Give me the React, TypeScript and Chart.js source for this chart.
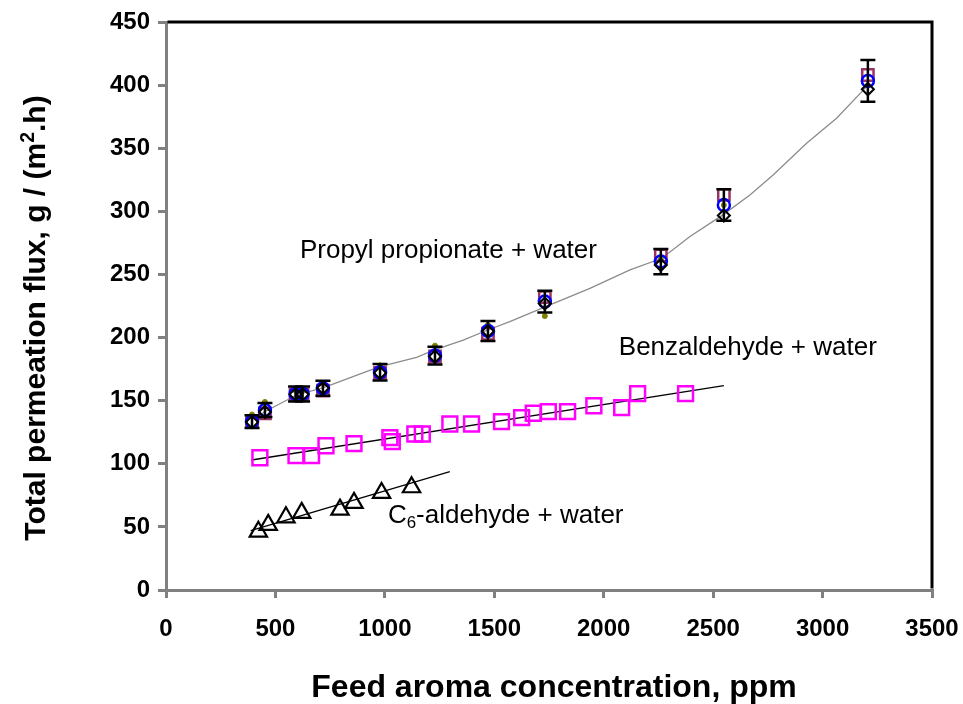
import React, { useEffect, useRef } from 'react';
import { Chart, registerables } from 'chart.js';
Chart.register(...registerables);

const FONT = '"Liberation Sans", Arial, Helvetica, sans-serif';

// Propyl propionate + water (several repeated measurements)
const ppConc = [393, 452, 592, 624, 717, 978, 1229, 1471, 1731, 2261, 2549, 3207];
const ppSquare = [133, 140, 155, 155, 158, 172, 185, 203, 232, 265, 313, 408];
const ppCircle = [133.4, 142.6, 155.3, 155.3, 159.8, 172.5, 185.7, 205.2, 228.5, 260.2, 305, 403.3];
const ppDiamond = [133, 141, 155, 155, 160, 172, 185, 205, 227, 257.5, 296.7, 396.7];
const ppOlive = [139, 149, 158, 158, 163.8, 178, 193.6, 210, 217, 262, 305, 400];
const ppError = [5, 5.5, 6, 6, 6, 6.6, 7, 8, 8.6, 10, 12.5, 16.5];

// Fitted curve for propyl propionate
const ppFitX = [391, 457, 597, 723, 900, 978, 1145, 1224, 1358, 1470, 1571, 1735, 1937, 2120, 2266, 2394, 2543, 2668, 2774, 2927, 3064, 3208];
const ppFitY = [134.7, 141.8, 154.5, 160.6, 172, 177, 184.3, 190, 198, 206, 212.6, 224.5, 239, 253.6, 262.8, 280, 297, 313, 328.8, 354, 373.8, 400];

// Benzaldehyde + water
const bzConc = [429, 594, 665, 731, 859, 1023, 1034, 1137, 1171, 1297, 1396, 1533, 1625, 1678, 1747, 1835, 1955, 2082, 2155, 2374];
const bzFlux = [104.8, 106.4, 106.4, 114.3, 116, 120.7, 117.5, 123.6, 123.6, 131.5, 131.5, 133.4, 136.6, 140, 141.3, 141.3, 146, 144.5, 155.6, 155.6];
const bzTrendX = [391, 2549];
const bzTrendY = [103, 162];

// C6-aldehyde + water
const c6Conc = [422, 467, 548, 620, 795, 859, 985, 1122];
const c6Flux = [46.2, 51.6, 57.6, 61.1, 63.7, 69, 76.9, 81.4];
const c6TrendX = [387, 1297];
const c6TrendY = [47, 93.8];

const xTicksMax = 3500;
const yTicksMax = 450;

const pts = (xs: number[], ys: number[]) => xs.map((x, i) => ({ x, y: ys[i] }));

type Seg = { t: string; shift?: number; scale?: number };

function drawSegs(ctx: CanvasRenderingContext2D, segs: Seg[], size: number, weight: string, x: number, y: number, align: 'left' | 'center') {
  const widths = segs.map((s) => {
    ctx.font = `${weight} ${size * (s.scale || 1)}px ${FONT}`;
    return ctx.measureText(s.t).width;
  });
  const total = widths.reduce((a, b) => a + b, 0);
  let cx = align === 'center' ? x - total / 2 : x;
  segs.forEach((s, i) => {
    ctx.font = `${weight} ${size * (s.scale || 1)}px ${FONT}`;
    ctx.fillText(s.t, cx, y + (s.shift || 0) * size);
    cx += widths[i];
  });
}

const overlay = {
  id: 'overlay',
  afterDatasetsDraw(chart: any) {
    const ctx = chart.ctx as CanvasRenderingContext2D;
    const xs = chart.scales.x;
    const ys = chart.scales.y;
    ctx.save();
    ctx.strokeStyle = '#000';
    ctx.lineWidth = 2.5;
    ppConc.forEach((c, i) => {
      const px = xs.getPixelForValue(c);
      const top = ys.getPixelForValue(ppCircle[i] + ppError[i]);
      const bot = ys.getPixelForValue(ppCircle[i] - ppError[i]);
      ctx.beginPath();
      ctx.moveTo(px, top);
      ctx.lineTo(px, bot);
      ctx.moveTo(px - 7.5, top);
      ctx.lineTo(px + 7.5, top);
      ctx.moveTo(px - 7.5, bot);
      ctx.lineTo(px + 7.5, bot);
      ctx.stroke();
    });
    ctx.restore();
  },
  afterDraw(chart: any) {
    const ctx = chart.ctx as CanvasRenderingContext2D;
    const { left, right, top, bottom } = chart.chartArea;
    const xs = chart.scales.x;
    const ys = chart.scales.y;
    ctx.save();
    ctx.strokeStyle = '#000';
    ctx.lineWidth = 3;
    ctx.beginPath();
    ctx.moveTo(left + 1.5, top);
    ctx.lineTo(right, top);
    ctx.lineTo(right, bottom - 1.5);
    ctx.stroke();

    ctx.fillStyle = '#000';
    ctx.textBaseline = 'alphabetic';
    ctx.textAlign = 'left';
    // series annotations
    drawSegs(ctx, [{ t: 'Propyl propionate + water' }], 26, 'normal', xs.getPixelForValue(612), ys.getPixelForValue(263), 'left');
    drawSegs(ctx, [{ t: 'Benzaldehyde + water' }], 26, 'normal', xs.getPixelForValue(2069), ys.getPixelForValue(186), 'left');
    drawSegs(ctx, [{ t: 'C' }, { t: '6', scale: 0.65, shift: 0.18 }, { t: '-aldehyde + water' }], 26, 'normal', xs.getPixelForValue(1014), ys.getPixelForValue(53), 'left');

    // x axis title
    drawSegs(ctx, [{ t: 'Feed aroma concentration, ppm' }], 32, 'bold', 554, 697, 'center');

    // y axis title
    ctx.translate(45, 318);
    ctx.rotate(-Math.PI / 2);
    drawSegs(ctx, [{ t: 'Total permeation flux, g / (m' }, { t: '2', scale: 0.65, shift: -0.38 }, { t: '.h)' }], 30, 'bold', 0, 0, 'center');
    ctx.restore();
  },
};

export default function App() {
  const ref = useRef<HTMLCanvasElement>(null);
  useEffect(() => {
    if (!ref.current) return;
    const chart = new Chart(ref.current, {
      type: 'scatter',
      data: {
        datasets: [
          {
            label: 'diamond',
            data: pts(ppConc, ppDiamond),
            pointStyle: 'rectRot',
            pointRadius: 6,
            borderColor: '#000',
            backgroundColor: 'rgba(0,0,0,0)',
            borderWidth: 2,
            order: 1,
          },
          {
            label: 'circle',
            data: pts(ppConc, ppCircle),
            pointStyle: 'circle',
            pointRadius: 6,
            borderColor: '#0000FF',
            backgroundColor: 'rgba(0,0,0,0)',
            borderWidth: 2.5,
            order: 2,
          },
          {
            label: 'olive',
            data: pts(ppConc, ppOlive),
            pointStyle: 'circle',
            pointRadius: 2.5,
            borderColor: '#808000',
            backgroundColor: '#808000',
            borderWidth: 1,
            order: 3,
          },
          {
            label: 'square',
            data: pts(ppConc, ppSquare),
            pointStyle: 'rect',
            pointRadius: 8,
            borderColor: '#993366',
            backgroundColor: 'rgba(0,0,0,0)',
            borderWidth: 2.5,
            order: 4,
          },
          {
            label: 'ppFit',
            data: pts(ppFitX, ppFitY),
            showLine: true,
            pointRadius: 0,
            borderColor: '#8c8c8c',
            borderWidth: 1.3,
            tension: 0,
            order: 5,
          },
          {
            label: 'bz',
            data: pts(bzConc, bzFlux),
            pointStyle: 'rect',
            pointRadius: 10.5,
            borderColor: '#FF00FF',
            backgroundColor: 'rgba(0,0,0,0)',
            borderWidth: 2.5,
            order: 2,
          },
          {
            label: 'bzTrend',
            data: pts(bzTrendX, bzTrendY),
            showLine: true,
            pointRadius: 0,
            borderColor: '#000',
            borderWidth: 1.3,
            order: 6,
          },
          {
            label: 'c6',
            data: pts(c6Conc, c6Flux),
            pointStyle: 'triangle',
            pointRadius: 10,
            borderColor: '#000',
            backgroundColor: 'rgba(0,0,0,0)',
            borderWidth: 2.2,
            order: 2,
          },
          {
            label: 'c6Trend',
            data: pts(c6TrendX, c6TrendY),
            showLine: true,
            pointRadius: 0,
            borderColor: '#000',
            borderWidth: 1.3,
            order: 6,
          },
        ],
      },
      options: {
        animation: false,
        responsive: false,
        devicePixelRatio: 1,
        layout: { padding: { left: 0, top: 22, right: 31, bottom: 0 } },
        plugins: { legend: { display: false }, tooltip: { enabled: false } },
        scales: {
          x: {
            type: 'linear',
            min: 0,
            max: xTicksMax,
            ticks: {
              stepSize: 500,
              color: '#000',
              font: { family: FONT, size: 24, weight: 'bold' },
              padding: 17,
              maxRotation: 0,
              autoSkip: false,
              callback: (v: any) => String(v),
            },
            grid: { drawOnChartArea: false, drawTicks: true, tickLength: 8, color: '#808080', lineWidth: 3 },
            border: { display: true, color: '#808080', width: 3 },
            afterFit: (s: any) => {
              s.height = 114;
              s.paddingLeft = 0;
              s.paddingRight = 0;
            },
          },
          y: {
            type: 'linear',
            min: 0,
            max: yTicksMax,
            ticks: {
              stepSize: 50,
              color: '#000',
              font: { family: FONT, size: 24, weight: 'bold' },
              padding: 8,
              autoSkip: false,
              callback: (v: any) => String(v),
            },
            grid: { drawOnChartArea: false, drawTicks: true, tickLength: 8, color: '#808080', lineWidth: 3 },
            border: { display: true, color: '#808080', width: 3 },
            afterFit: (s: any) => {
              s.width = 166;
              s.paddingTop = 0;
              s.paddingBottom = 0;
            },
          },
        },
      },
      plugins: [overlay],
    } as any);
    return () => chart.destroy();
  }, []);
  return (
    <div style={{ position: 'fixed', left: 0, top: 0, width: 963, height: 704, background: '#fff' }}>
      <canvas ref={ref} width={963} height={704} style={{ display: 'block' }} />
    </div>
  );
}
